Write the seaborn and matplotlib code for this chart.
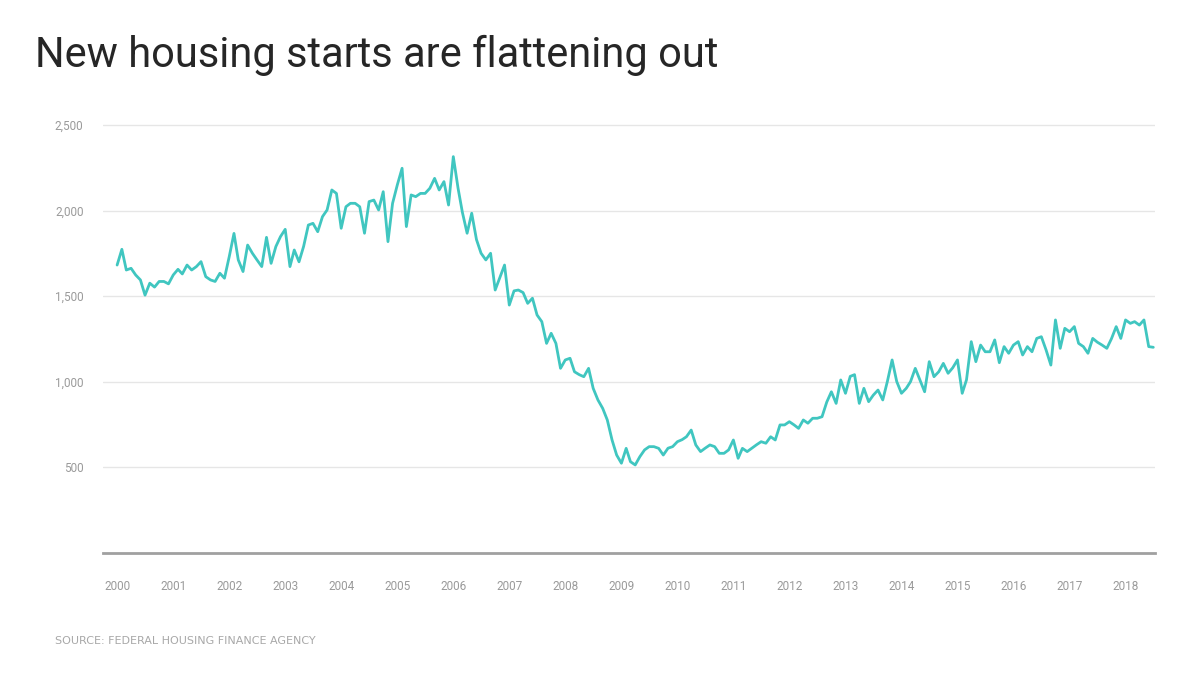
import pandas as pd
import numpy as np
import matplotlib
matplotlib.use("Agg")
import matplotlib.pyplot as plt
import seaborn as sns

### Monthly housing starts (thousands)
y2000 = [1681, 1773, 1652, 1662, 1623, 1594, 1505, 1575, 1552, 1585, 1585, 1571]
y2001 = [1623, 1656, 1629, 1681, 1652, 1672, 1701, 1613, 1594, 1585, 1633, 1604]
y2002 = [1730, 1866, 1711, 1643, 1798, 1750, 1711, 1672, 1843, 1691, 1789, 1847]
y2003 = [1890, 1672, 1769, 1700, 1790, 1915, 1925, 1876, 1964, 2003, 2120, 2100]
y2004 = [1896, 2022, 2042, 2042, 2022, 1867, 2052, 2061, 2003, 2110, 1818, 2042]
y2005 = [2150, 2247, 1906, 2091, 2081, 2100, 2100, 2130, 2188, 2120, 2169, 2032]
y2006 = [2315, 2130, 1990, 1867, 1984, 1830, 1750, 1711, 1750, 1535, 1610, 1681]
y2007 = [1447, 1530, 1535, 1520, 1457, 1487, 1389, 1350, 1223, 1282, 1223, 1077]
y2008 = [1126, 1136, 1057, 1040, 1028, 1077, 960, 892, 843, 775, 658, 570]
y2009 = [522, 609, 531, 512, 560, 600, 619, 619, 609, 570, 610, 619]
y2010 = [648, 660, 677, 716, 629, 590, 610, 629, 619, 580, 580, 600]
y2011 = [658, 551, 609, 590, 610, 630, 648, 639, 677, 658, 746, 746]
y2012 = [765, 746, 726, 775, 756, 785, 785, 794, 880, 940, 872, 1009]
y2013 = [931, 1030, 1040, 872, 960, 882, 920, 950, 892, 1000, 1126, 1000]
y2014 = [931, 960, 999, 1077, 1010, 940, 1116, 1028, 1057, 1106, 1048, 1080]
y2015 = [1126, 931, 1010, 1233, 1116, 1213, 1174, 1174, 1243, 1110, 1204, 1165]
y2016 = [1213, 1233, 1155, 1204, 1174, 1252, 1262, 1184, 1096, 1360, 1194, 1311]
y2017 = [1291, 1321, 1223, 1204, 1165, 1252, 1230, 1213, 1194, 1250, 1321, 1252]
y2018 = [1360, 1340, 1350, 1330, 1360, 1204, 1200]

anos = list(range(2000, 2019))
y_ticks = [500, 1000, 1500, 2000, 2500]
y_labels = ["500", "1,000", "1,500", "2,000", "2,500"]

titulo = "New housing starts are flattening out"
fonte = "SOURCE: FEDERAL HOUSING FINANCE AGENCY"

### Montando tabela
valores = (y2000 + y2001 + y2002 + y2003 + y2004 + y2005 + y2006 + y2007 + y2008
           + y2009 + y2010 + y2011 + y2012 + y2013 + y2014 + y2015 + y2016 + y2017 + y2018)
dados = pd.DataFrame()
dados["Mes"] = pd.date_range("2000-01-01", periods=len(valores), freq="MS")
dados["Starts"] = valores

### Estilo
sns.set_style("white")
plt.rcParams["font.family"] = ["Roboto", "DejaVu Sans"]

W, H = 1200, 675
fig = plt.figure(figsize=(12, 6.75), dpi=100)
ax_left, ax_right, ax_top, ax_bottom = 103, 1155, 115, 552.5
ax = fig.add_axes([ax_left / W, 1 - ax_bottom / H, (ax_right - ax_left) / W, (ax_bottom - ax_top) / H])

sns.lineplot(data=dados, x="Mes", y="Starts", ax=ax, color="#40c6c0", linewidth=2.0)

ax.set_ylim(0, 2500 * (ax_bottom - ax_top) / (ax_bottom - 125))
ax.set_xlim(pd.Timestamp("1999-10-01"), pd.Timestamp("2018-07-12"))

ax.set_yticks(y_ticks)
ax.set_yticklabels(y_labels)
ax.set_xticks([pd.Timestamp(f"{a}-01-01") for a in anos])
ax.set_xticklabels([str(a) for a in anos])
ax.tick_params(axis="both", length=0, colors="#9a9a9a", labelsize=8.5)
ax.tick_params(axis="y", pad=14)
ax.tick_params(axis="x", pad=20)

ax.grid(axis="y", color="#e6e6e6", linewidth=1.0)
ax.grid(axis="x", visible=False)
for lado in ["top", "right", "left"]:
    ax.spines[lado].set_visible(False)
ax.spines["bottom"].set_color("#a0a0a0")
ax.spines["bottom"].set_linewidth(2.0)
ax.set_xlabel("")
ax.set_ylabel("")

fig.text(35 / W, 1 - 55 / H, titulo, fontsize=30, color="#262626", va="center", ha="left")
fig.text(55 / W, 1 - 641 / H, fonte, fontsize=8, color="#a8a8a8", va="center", ha="left",
         family=["DejaVu Sans"])

fig.savefig("out.png", dpi=100)
